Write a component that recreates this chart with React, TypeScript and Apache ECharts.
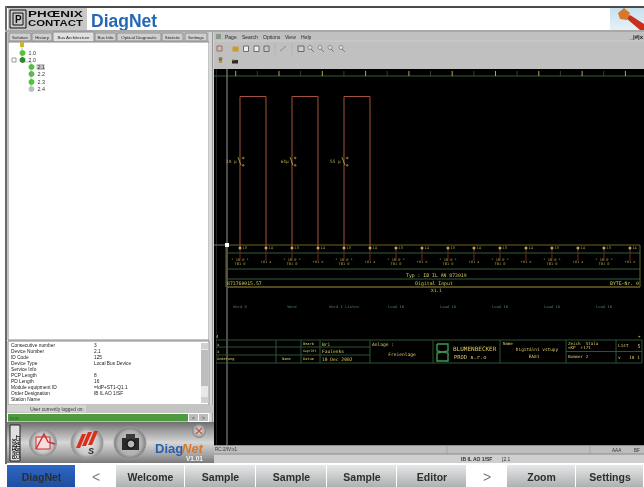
import React, { useEffect, useRef } from "react";
import * as echarts from "echarts";

const channels = [0, 1, 2, 3, 4, 5, 6, 7, 8, 9, 10, 11, 12, 13, 14, 15];
const pulses = [[0, 1], [2, 3], [4, 5]];
const pulseLabels = ["10 µ", "64µ", "55 µ"];
const nodeLabels = ["13", "14", "13", "14", "13", "14", "13", "14", "13", "14", "13", "14", "13", "14", "13", "14"];
const evenAddress = "* 10.0 *\nTB1 0";
const oddAddress = "+U1 x";
const wordLabels = ["Word 0", "Word", "Word 1 Listen", "Load 16", "Load 16", "Load 16", "Load 16", "Load 16"];
const tabs = ["Solution", "History", "Bus Architecture", "Bus Info", "Optical Diagnostic", "Statistic", "Settings"];
const treeLabels = ["1.0", "2.0", "2.1", "2.2", "2.3", "2.4"];
const infoLabels = ["Consecutive number", "Device Number", "ID Code", "Device Type", "Service Info", "PCP Length", "PD Length", "Module equipment ID", "Order Designation", "Station Name"];
const infoValues = ["3", "2.1", "125", "Local Bus Device", "", "8", "16", "=IdP+ST1-Q1.1", "IB IL AO 1/SF", ""];
const menuItems = ["Page", "Search", "Options", "View", "Help"];
const navItems = ["DiagNet", "<", "Welcome", "Sample", "Sample", "Sample", "Editor", ">", "Zoom", "Settings"];

const GREEN = "#2f5f38", OLIVE = "#6b6428", YEL = "#d8c860", RED = "#a5523a", TEAL = "#5f9a9a";
const MONO = "DejaVu Sans Mono", SANS = "Liberation Sans";

const R = (x: number, y: number, w: number, h: number, fill: any, stroke?: string) => ({
  type: "rect", shape: { x, y, width: w, height: h }, style: { fill, stroke: stroke || undefined, lineWidth: stroke ? 1 : 0 }, silent: true,
});
const L = (x1: number, y1: number, x2: number, y2: number, stroke: string, lineWidth = 1) => ({
  type: "line", shape: { x1, y1, x2, y2 }, style: { stroke, lineWidth }, silent: true,
});
const T = (text: string, x: number, y: number, fontSize: number, fill: string, o: any = {}) => ({
  type: "text", x, y, rotation: o.rotation || 0, scaleX: o.scaleX || 1, silent: true,
  style: {
    text, fontSize, fill, fontFamily: o.font || SANS, fontWeight: o.weight || "normal", fontStyle: o.italic ? "italic" : "normal",
    textAlign: o.align || "left", align: o.align || "left", verticalAlign: "middle", textVerticalAlign: "middle",
  },
});
const C = (cx: number, cy: number, r: number, fill: any, stroke?: string, lw = 1) => ({
  type: "circle", shape: { cx, cy, r }, style: { fill, stroke: stroke || undefined, lineWidth: stroke ? lw : 0 }, silent: true,
});
const P = (points: number[][], fill: string) => ({ type: "polygon", shape: { points }, style: { fill }, silent: true });
const PL = (points: number[][], stroke: string, lineWidth = 1) => ({ type: "polyline", shape: { points }, style: { stroke, lineWidth, fill: "none" }, silent: true });
const vgrad = (stops: [number, string][]) => ({ type: "linear", x: 0, y: 0, x2: 0, y2: 1, colorStops: stops.map(([offset, color]) => ({ offset, color })) });
const rgrad = (stops: [number, string][]) => ({ type: "radial", x: 0.5, y: 0.5, r: 0.5, colorStops: stops.map(([offset, color]) => ({ offset, color })) });

function chrome(): any[] {
  const g: any[] = [];
  g.push(R(0, 0, 644, 487, "#ffffff"));
  // window frame + header
  g.push(R(5, 6, 639, 2, "#4a4a4a"));
  g.push(R(5, 6, 2, 458, "#6a6a6a"));
  g.push(R(8, 8, 79, 22, "#c8c8c8"));
  g.push(R(10, 10, 16, 18, "none", "#111111"));
  g.push(R(13, 13, 10, 12, "none", "#111111"));
  g.push(T("P", 15, 19, 10, "#111111", { weight: "bold" }));
  g.push(T("PHŒNIX", 28, 13, 9.5, "#0d0d0d", { weight: "bold", scaleX: 1.42 }));
  g.push(T("CONTACT", 28, 22.5, 9.5, "#0d0d0d", { weight: "bold", scaleX: 1.2 }));
  g.push(T("DiagNet", 91, 21, 17.5, "#2468b4", { weight: "bold" }));
  g.push(R(610, 8, 34, 22, vgrad([[0, "#c8e0ee"], [1, "#e8f0f6"]])));
  g.push(P([[644, 24], [630, 15], [626, 18], [640, 30], [644, 30]], "#c8301c"));
  g.push(P([[618, 13], [624, 8], [630, 13], [627, 20], [620, 19]], "#d8782c"));
  g.push(R(5, 30, 639, 2, "#a8a8a8"));

  // left panel
  g.push(R(7, 32, 205, 10, "#c4c4c4"));
  const tabX = [[9, 31], [32, 52], [53, 94], [95, 116], [117, 161], [162, 183], [185, 207]];
  tabs.forEach((t, i) => {
    const [a, b] = tabX[i];
    g.push(R(a, i === 2 ? 32 : 33, b - a, i === 2 ? 10 : 8, i === 2 ? "#e0e0e0" : "#cfcfcf", "#8e8e8e"));
    g.push(T(t, (a + b) / 2, 37, 4.4, "#222222", { align: "center" }));
  });
  g.push(R(8, 42, 201, 298, "#ffffff", "#8a8a8a"));
  g.push(R(209, 32, 5, 413, "#d8d8d8"));
  g.push(L(212.5, 32, 212.5, 445, "#9a9a9a", 1.2));
  // tree
  g.push(PL([[22, 46], [22, 62]], "#999999", 0.6));
  g.push(PL([[22, 62], [31, 62], [31, 89]], "#999999", 0.6));
  g.push(R(20, 42, 4, 5, "#c8b830"));
  const tree = [[22.5, 53], [22.5, 60], [31.5, 67], [31.5, 74], [31.5, 82], [31.5, 89]];
  tree.forEach(([x, y], i) => {
    g.push(C(x, y, 3, i === 5 ? "#b8c0c0" : i === 1 ? "#2f8a2c" : "#55c040"));
    if (i === 2) g.push(R(x + 5, y - 3, 8, 6, "#c4c4c4"));
    g.push(T(treeLabels[i], x + 6, y, 5.4, "#333333"));
  });
  g.push(R(12, 58, 4, 4, "#ffffff", "#999999"));

  // info list
  g.push(R(8, 341, 201, 64, "#ffffff", "#8a8a8a"));
  infoLabels.forEach((t, i) => {
    const y = 345 + i * 6;
    g.push(T(t, 11, y, 4.8, "#222222"));
    if (infoValues[i]) g.push(T(infoValues[i], 94, y, 4.8, "#222222"));
  });
  g.push(R(201, 343, 7, 60, "#e8e8e8"));
  g.push(R(201, 350, 7, 36, "#bdbdbd"));
  g.push(R(201, 343, 7, 6, "#d0d0d0"));
  g.push(R(201, 397, 7, 6, "#d0d0d0"));

  // status
  g.push(R(7, 405, 207, 8, "#c4c4c4"));
  g.push(R(7, 405, 79, 7, "#d4d4d4"));
  g.push(T("User currently logged on:", 57, 409, 4.8, "#333333", { align: "center" }));
  g.push(R(8, 414, 180, 7.5, "#4e9a3e"));
  g.push(T("RUN", 10, 418, 4, "#2c5c22"));
  g.push(R(189, 414, 9, 7, "#bcbcbc"));
  g.push(R(199, 414, 9, 7, "#bcbcbc"));
  g.push(T("<", 193.5, 417.5, 5, "#333333", { align: "center" }));
  g.push(T(">", 203.5, 417.5, 5, "#333333", { align: "center" }));

  // dock
  g.push(R(7, 422, 207, 41, vgrad([[0, "#6e6e6e"], [0.2, "#9c9c9c"], [0.5, "#d6d6d6"], [0.8, "#a4a4a4"], [1, "#7a7a7a"]])));
  g.push(R(10, 425, 10, 36, "#e0e0e0", "#222222"));
  g.push(T("PHŒNIX", 14, 459, 5, "#111111", { weight: "bold", rotation: Math.PI / 2 }));
  g.push(T("CONTACT", 18, 459, 5, "#111111", { weight: "bold", rotation: Math.PI / 2 }));
  const sil = rgrad([[0, "#eaeaea"], [0.72, "#c6c6c6"], [1, "#8a8a8a"]]);
  g.push(C(43, 443, 13.5, sil, "#9a9a9a"));
  g.push(C(87, 443, 16, sil, "#9a9a9a"));
  g.push(C(130, 443, 16, rgrad([[0, "#c4c4c4"], [0.75, "#b0b0b0"], [1, "#7a7a7a"]]), "#9a9a9a"));
  g.push(R(36, 437, 14, 12, "#f6dede", "#d02a2a"));
  g.push(PL([[36, 449], [44, 434], [48, 442], [55, 444]], "#d02a2a", 1.4));
  g.push(P([[82, 434], [86, 434], [80, 448], [76, 448]], "#d8301c"));
  g.push(P([[88, 432], [92, 432], [86, 446], [82, 446]], "#d8301c"));
  g.push(P([[94, 431], [98, 431], [92, 445], [88, 445]], "#d8301c"));
  g.push(T("S", 91, 451, 9, "#2a2a2a", { weight: "bold", italic: true, align: "center" }));
  g.push(R(122, 438, 17, 12, "#2a2a2a"));
  g.push(R(126, 434, 9, 5, "#3a3a3a"));
  g.push(C(131, 444, 4, "#b8b8b8", "#111111", 1.2));
  g.push(C(199, 431, 6.5, rgrad([[0, "#ececec"], [1, "#9a9a9a"]]), "#8a8a8a"));
  g.push(L(196, 428, 202, 434, "#c25a46", 1.4));
  g.push(L(202, 428, 196, 434, "#c25a46", 1.4));
  g.push(T("Diag", 155, 448, 13, "#2a5fb0", { weight: "bold" }));
  g.push(T("Net", 182, 448, 13, "#d8782c", { weight: "bold", italic: true }));
  g.push(T("V1.01", 186, 458.5, 6.5, "#f2f2f2", { weight: "bold" }));

  // right window
  g.push(R(214, 32, 430, 38, "#c0c0c0"));
  g.push(L(214, 41, 644, 41, "#d4d4d4", 0.6));
  g.push(R(216, 34, 5, 5, "#889988"));
  const menuX = [225, 242, 263, 285, 301];
  menuItems.forEach((t, i) => g.push(T(t, menuX[i], 36.5, 5, "#2a2a2a")));
  g.push(T("_|#|x", 643, 37, 6, "#222222", { align: "right", weight: "bold" }));
  // toolbar icons
  g.push(R(217, 46, 5, 5, "none", "#a06a58"));
  g.push(R(232.5, 46.5, 6, 5, "#c89a30"));
  g.push(R(243.5, 46, 5, 5.5, "#efefef", "#6a6a6a"));
  g.push(R(254, 46, 5, 5.5, "#efefef", "#6a6a6a"));
  g.push(R(264, 46, 5, 5.5, "#c8c8c8", "#6a6a6a"));
  g.push(L(280, 51, 286, 46, "#8a8a8a", 1));
  g.push(R(298, 46, 6, 5.5, "#cfcfcf", "#666666"));
  [311, 321, 331, 342].forEach((x) => {
    g.push(C(x - 1, 47.5, 2, "#dcdcdc", "#777777", 0.8));
    g.push(L(x, 49, x + 3, 52, "#777777", 0.9));
  });
  g.push(L(275, 43, 275, 55, "#a8a8a8", 0.6));
  g.push(L(292, 43, 292, 55, "#a8a8a8", 0.6));
  g.push(R(219, 59, 3, 4, "#a89a50"));
  g.push(C(220.5, 59, 2, "#8a7a30"));
  g.push(R(232, 60, 6, 3.5, "#2a2a2a"));
  g.push(R(232, 59, 3, 1.5, "#c89a30"));

  // schematic
  g.push(R(214, 69, 430, 376, "#000000"));
  g.push(L(216.5, 69, 216.5, 445, "#2c2c2c", 0.8));
  g.push(L(214, 76, 644, 76, GREEN, 1));
  for (let i = 0; i < 10; i++) {
    const x = 235.7 + 43.3 * i;
    g.push(L(x, 71, x, 76, "#b8a840", 1));
    g.push(L(x + 21.6, 71, x + 21.6, 76, "#4a4a4a", 0.8));
  }
  g.push(L(227, 69, 227, 445, "#767676", 1.3));
  g.push(L(214, 245, 227, 245, "#767676", 1));
  g.push(L(227, 245, 640, 245, OLIVE, 1));
  g.push(L(227, 253, 640, 253, GREEN, 1));
  g.push(L(227, 269, 640, 269, GREEN, 1));
  g.push(L(227, 279, 640, 279, GREEN, 1));
  g.push(L(227, 287, 640, 287, OLIVE, 1.6));
  g.push(L(640, 245, 640, 287, OLIVE, 1));
  g.push(L(226, 245, 226, 287, OLIVE, 1));
  g.push(R(225, 243, 4, 4, "#ffffff"));
  g.push(T("Typ : IB IL AN 873019", 406, 275, 4.8, YEL, { font: MONO }));
  g.push(T("873760015.57", 227, 283.5, 4.8, YEL, { font: MONO }));
  g.push(T("Digital Input", 434, 283.5, 4.8, YEL, { font: MONO, align: "center" }));
  g.push(T("BYTE-Nr. 0", 610, 283.5, 4.8, YEL, { font: MONO }));
  g.push(T("X1.1", 431, 290.5, 4.4, YEL, { font: MONO }));

  // title block
  [340, 347, 355, 363].forEach((y, i) => {
    g.push(L(216, y, i === 0 || i === 3 ? 642 : 370, y, GREEN, 0.9));
  });
  g.push(L(566, 351.5, 642, 351.5, GREEN, 0.9));
  [276, 301, 320, 370, 433, 500, 566, 616, 642].forEach((x) => g.push(L(x, 340, x, 363, GREEN, 0.9)));
  g.push(T("4", 216, 336, 4, YEL, { font: MONO }));
  g.push(T("+", 638, 336, 4, YEL, { font: MONO }));
  g.push(T("x", 217, 344, 4, YEL, { font: MONO }));
  g.push(T("x", 217, 351, 4, YEL, { font: MONO }));
  g.push(T("Änderung", 217, 359, 3.6, YEL, { font: MONO }));
  g.push(T("Name", 282, 359, 3.6, YEL, { font: MONO }));
  g.push(T("Datum", 303, 359, 3.6, YEL, { font: MONO }));
  g.push(T("Bearb", 303, 344, 3.6, YEL, { font: MONO }));
  g.push(T("Geprüft", 303, 351, 3.2, YEL, { font: MONO }));
  g.push(T("Bri", 322, 344, 4.6, YEL, { font: MONO }));
  g.push(T("Faulenks", 322, 351.5, 4.6, YEL, { font: MONO }));
  g.push(T("10 Dec 2002", 322, 359.5, 4.6, YEL, { font: MONO }));
  g.push(T("Anlage :", 372, 344, 4.6, YEL, { font: MONO }));
  g.push(T("Freienlage", 402, 354, 4.6, YEL, { font: MONO, align: "center" }));
  g.push(PL([[437, 344], [448, 344], [448, 351], [437, 353], [437, 361], [448, 361], [448, 353], [437, 351], [437, 344]], "#3e9a4c", 1.4));
  g.push(T("BLUMENBECKER", 453, 348, 6, YEL, { font: MONO }));
  g.push(T("PROD s.r.o", 454, 357, 5.4, YEL, { font: MONO }));
  g.push(T("Name", 503, 343.5, 4, YEL, { font: MONO }));
  g.push(T("Digitální vstupy", 537, 349, 4.4, YEL, { font: MONO, align: "center" }));
  g.push(T("EA01", 534, 356, 4.4, YEL, { font: MONO, align: "center" }));
  g.push(T("Zeich  Stala", 568, 343.5, 4.2, YEL, { font: MONO }));
  g.push(T("=KP  +171", 568, 347.5, 4.2, YEL, { font: MONO }));
  g.push(T("Nummer 2", 568, 356, 4.2, YEL, { font: MONO }));
  g.push(T("List", 618, 345.5, 4.4, YEL, { font: MONO }));
  g.push(T("5", 639, 345.5, 5, YEL, { font: MONO, align: "center" }));
  g.push(T("v", 618, 357, 4.4, YEL, { font: MONO }));
  g.push(T("10 1", 629, 357, 4.4, YEL, { font: MONO }));

  // status bars
  g.push(R(214, 445, 430, 9, "#bdbdbd"));
  g.push(L(214, 445.5, 644, 445.5, "#8e8e8e", 1));
  g.push(T("RC:2/IV:x1", 215, 449.5, 4.6, "#333333"));
  g.push(L(447, 446, 447, 454, "#9c9c9c", 0.7));
  g.push(L(590, 446, 590, 454, "#9c9c9c", 0.7));
  g.push(T("AAA", 612, 450, 4.6, "#333333"));
  g.push(T("BF", 634, 450, 4.6, "#333333"));
  g.push(R(214, 454, 430, 9, "#cfcfcf"));
  g.push(L(214, 454, 644, 454, "#8a8a8a", 1));
  g.push(T("IB IL AO 1/SF", 461, 458.5, 5, "#333333", { weight: "bold" }));
  g.push(T("[2.1", 502, 458.5, 5, "#333333"));

  // bottom nav
  const navX = [7, 76, 116, 185, 256, 327, 397, 467, 507, 576, 644];
  const grey = vgrad([[0, "#e6e8e8"], [0.55, "#c6c9c9"], [1, "#aeb1b1"]]);
  navItems.forEach((t, i) => {
    const a = navX[i], b = navX[i + 1];
    const plain = t === "<" || t === ">";
    const fill = i === 0 ? vgrad([[0, "#2f68c4"], [1, "#1e4ea0"]]) : plain ? "#ffffff" : grey;
    g.push(R(a, 465, b - a - (plain ? 0 : 1), 22, fill));
    g.push(T(t, (a + b) / 2, 476.5, plain ? 14 : 10.5, plain ? "#7a7a7a" : "#2e2e2e", { weight: plain ? "normal" : "bold", align: "center" }));
  });
  return g;
}

const axisHidden = { show: false };
const hiddenPoint = { symbol: "circle", symbolSize: 1, itemStyle: { color: "transparent" } };

export default function App() {
  const ref = useRef<HTMLDivElement>(null);
  useEffect(() => {
    document.body.style.margin = "0";
    const chart = echarts.init(ref.current!, undefined, { renderer: "svg" });
    const contact = "path://M0 0L4 10M7 0A1 1 0 1 1 7 2A1 1 0 1 1 7 0M7 9A1 1 0 1 1 7 11A1 1 0 1 1 7 9";
    const series: any[] = [];
    channels.forEach((c) => {
      series.push({ type: "line", silent: true, symbol: "none", z: 2, lineStyle: { color: "#6e2c22", width: 1 }, data: [[c, 0], [c, -0.08]] });
    });
    pulses.forEach(([a, b]) => {
      series.push({ type: "line", silent: true, symbol: "none", z: 3, lineStyle: { color: RED, width: 1 }, data: [[a, 0], [a, 1], [b, 1], [b, 0]] });
    });
    series.push({
      type: "scatter", silent: true, z: 4, symbolSize: 3, itemStyle: { color: "#e6d060" },
      data: channels.map((c) => [c, 0]),
      label: { show: true, position: "right", distance: 1, fontSize: 3.6, color: YEL, fontFamily: MONO, formatter: (p: any) => nodeLabels[p.dataIndex] },
    });
    series.push({
      type: "scatter", silent: true, z: 4, ...hiddenPoint,
      data: channels.map((c) => [c, -0.092]),
      label: { show: true, position: "inside", fontSize: 3.6, lineHeight: 4, align: "center", verticalAlign: "middle", color: YEL, fontFamily: MONO, formatter: (p: any) => (p.dataIndex % 2 === 0 ? evenAddress : oddAddress) },
    });
    series.push({
      type: "scatter", silent: true, z: 4, symbol: contact, symbolSize: [6, 9], symbolOffset: [1, 0], itemStyle: { color: "transparent", borderColor: YEL, borderWidth: 0.8 },
      data: pulses.map(([a]) => [a, 0.57]),
      label: { show: true, position: "left", distance: 1, fontSize: 4.4, color: YEL, fontFamily: MONO, formatter: (p: any) => pulseLabels[p.dataIndex] },
    });
    series.push({
      type: "scatter", silent: true, z: 4, ...hiddenPoint,
      data: channels.filter((c) => c % 2 === 0).map((c) => [c, -0.383]),
      label: { show: true, position: "inside", fontSize: 3.8, align: "center", verticalAlign: "middle", color: TEAL, fontFamily: MONO, formatter: (p: any) => wordLabels[p.dataIndex] },
    });
    chart.setOption({
      animation: false,
      backgroundColor: "#ffffff",
      tooltip: { show: false },
      legend: { show: false },
      graphic: { elements: chrome() },
      grid: { left: 214, right: 0, top: 69, bottom: 42, containLabel: false, show: false },
      xAxis: { type: "value", min: -1, max: 15.54, ...axisHidden },
      yAxis: { type: "value", min: -1.3, max: 1.1815, ...axisHidden },
      series,
    });
    return () => chart.dispose();
  }, []);
  return (
    <div style={{ position: "absolute", left: 0, top: 0, width: 644, height: 487, overflow: "hidden" }}>
      <div ref={ref} style={{ width: 644, height: 487, filter: "blur(0.55px)" }} />
    </div>
  );
}
